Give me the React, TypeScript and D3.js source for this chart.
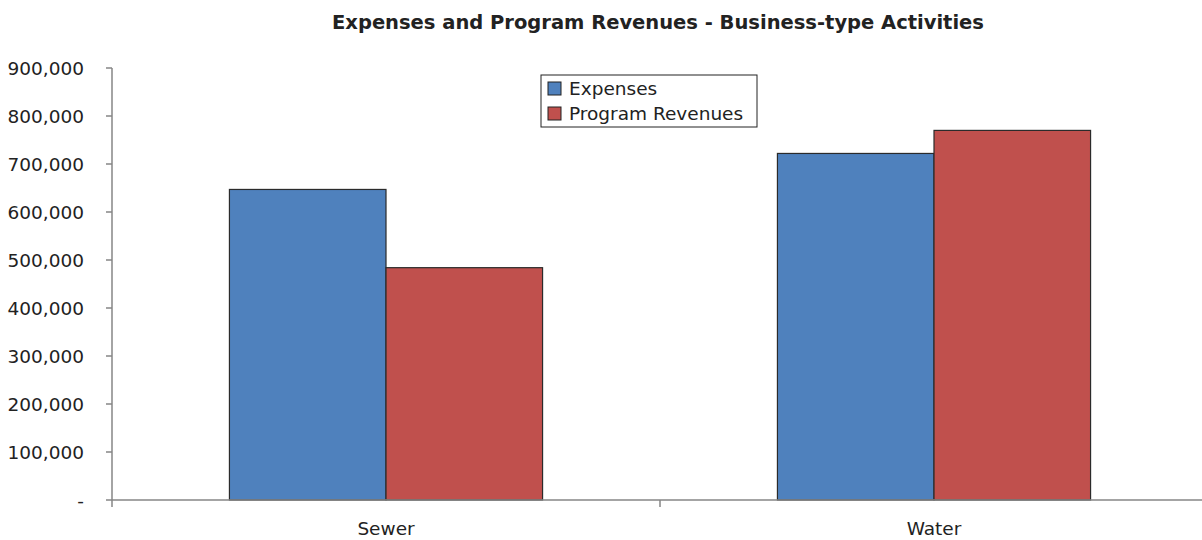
import React from 'react'
import * as d3 from 'd3'

const [W, H] = [1202, 540]
const margin = { left: 112, right: -6, top: 68, bottom: 40 }

const categories = ['Sewer', 'Water']
const seriesNames = ['Expenses', 'Program Revenues']
const expenses = [647000, 722000]
const programRevenues = [484000, 770000]
const yTicks = [0, 100000, 200000, 300000, 400000, 500000, 600000, 700000, 800000, 900000]
const colors = ['#4f81bd', '#c0504d']

const FONT = '"DejaVu Sans", Verdana, sans-serif'

export default function App() {
  const series = [expenses, programRevenues]

  const x = d3.scaleBand()
    .domain(categories)
    .range([margin.left, W - margin.right])
  const inner = d3.scaleBand()
    .domain(seriesNames)
    .range([0, x.bandwidth()])
    .paddingInner(0)
    .paddingOuter(0.75)
  const y = d3.scaleLinear()
    .domain([0, 900000])
    .range([H - margin.bottom, margin.top])

  const fmt = (v: number) => v === 0 ? '-' : d3.format(',')(v)
  const axisColor = '#868686'
  const y0 = y(0)

  return (
    <svg width={W} height={H} style={{ position: 'absolute', left: 0, top: 0 }} fontFamily={FONT}>
      <text x={658} y={29} textAnchor="middle" fontSize={19.5} fontWeight="bold" fill="#222">
        Expenses and Program Revenues - Business-type Activities
      </text>

      {/* bars */}
      {categories.map((c, ci) => seriesNames.map((s, si) => {
        const v = series[si][ci]
        return (
          <rect key={c + s}
            x={(x(c) as number) + (inner(s) as number)}
            y={y(v)}
            width={inner.bandwidth()}
            height={y0 - y(v)}
            fill={colors[si]}
            stroke="#2b2b2b"
            strokeWidth={1.2} />
        )
      }))}

      {/* y axis */}
      <line x1={margin.left} x2={margin.left} y1={y(900000)} y2={y0 + 7} stroke={axisColor} strokeWidth={1.5} />
      {yTicks.map(t => (
        <g key={t}>
          <line x1={margin.left - 6} x2={margin.left} y1={y(t)} y2={y(t)} stroke={axisColor} strokeWidth={1.5} />
          <text x={84} y={y(t)} dy="0.36em" textAnchor="end" fontSize={18.5} fill="#222">{fmt(t)}</text>
        </g>
      ))}

      {/* x axis */}
      <line x1={margin.left} x2={W} y1={y0} y2={y0} stroke={axisColor} strokeWidth={1.5} />
      {categories.map((c, i) => (
        <g key={c}>
          {i > 0 && <line x1={x(c)} x2={x(c)} y1={y0} y2={y0 + 7} stroke={axisColor} strokeWidth={1.5} />}
          <text x={(x(c) as number) + x.bandwidth() / 2} y={535} textAnchor="middle" fontSize={18.5} fill="#222">{c}</text>
        </g>
      ))}

      {/* legend */}
      <g transform="translate(541,75)">
        <rect x={0} y={0} width={216} height={52} fill="#fff" stroke="#222" strokeWidth={1} />
        {seriesNames.map((s, i) => (
          <g key={s} transform={`translate(0,${13 + i * 25})`}>
            <rect x={7} y={-6} width={13} height={13} fill={colors[i]} stroke="#222" strokeWidth={1} />
            <text x={28} y={0} dy="0.36em" fontSize={18.5} fill="#222">{s}</text>
          </g>
        ))}
      </g>
    </svg>
  )
}
